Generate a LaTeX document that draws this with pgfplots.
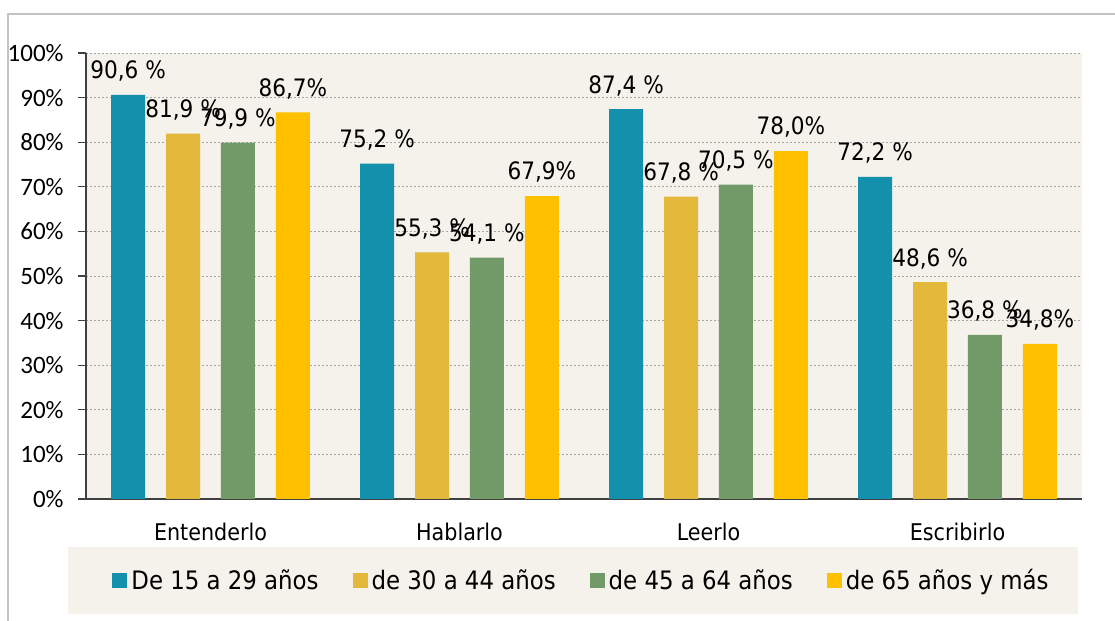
\documentclass[border=0pt]{standalone}
\usepackage{pgfplots}
\pgfplotsset{compat=1.18}
\usepackage{fontspec}
\setmainfont{DejaVu Sans Condensed}
\newfontfamily\carlito{Carlito}
\definecolor{bgc}{RGB}{245,241,235}
\definecolor{cteal}{RGB}{19,145,172}
\definecolor{cgold}{RGB}{228,184,58}
\definecolor{cgreen}{RGB}{113,154,104}
\definecolor{cyellow}{RGB}{255,192,0}
\definecolor{frame}{RGB}{195,195,195}
\begin{document}
\begin{tikzpicture}
\useasboundingbox (0,0) rectangle (557.5pt,310.5pt);
\draw[frame, line width=1pt] (4pt,0) -- (4pt,303.5pt) -- (557.5pt,303.5pt);
\begin{axis}[
  at={(43pt,61pt)}, anchor=south west,
  scale only axis, width=498pt, height=223pt,
  axis background/.style={fill=bgc},
  xmin=-0.5, xmax=3.5, ymin=0, ymax=100,
  ybar, bar width=0.137,
  axis x line*=bottom, axis y line*=left,
  axis line style={draw=black!75, line width=0.6pt},
  ytick={0,10,...,100},
  yticklabel={\pgfmathprintnumber{\tick}\%},
  /pgf/number format/assume math mode=true,
  yticklabel style={font=\carlito\fontsize{12.5}{14}\selectfont, inner sep=0pt, xshift=-7pt},
  ymajorgrids,
  grid style={draw=black!35, line width=0.4pt, dash pattern=on 1pt off 1pt},
  tick align=outside,
  major tick length=4pt,
  minor tick length=5pt,
  xtick={0,1,2,3},
  xticklabels={Entenderlo,Hablarlo,Leerlo,Escribirlo},
  x tick style={draw=none},
  minor xtick={-0.5,0.5,1.5,2.5,3.5},
  extra x ticks={-0.5,0.5,1.5,2.5,3.5},
  extra x tick labels={},
  extra x tick style={major tick length=5pt, tick style={draw=black!75, line width=0.6pt}},
  y tick style={draw=black!75, line width=0.6pt},
  xticklabel style={font=\fontsize{11.5}{13}\selectfont, inner sep=0pt, yshift=-8pt},
  point meta=explicit symbolic,
  nodes near coords,
  every node near coord/.append style={font=\fontsize{12}{14}\selectfont, inner sep=0pt, yshift=6.5pt, text=black},
  clip=false,
  legend columns=4,
  legend style={at={(0.4985,-0.1836)}, anchor=center, draw=none, fill=none,
    font=\fontsize{12.7}{15}\selectfont,
    /tikz/every even column/.append style={column sep=15pt}},
  legend image code/.code={\fill[#1] (0pt,-3.8pt) rectangle (7.5pt,3.8pt);},
]
\fill[bgc] (rel axis cs:-0.0181,-0.1076) rectangle (rel axis cs:0.996,-0.258);
\addplot[fill=cteal, draw=none, bar shift=-0.331] coordinates {
  (0,90.6) [90,6 \%] (1,75.2) [75,2 \%] (2,87.4) [87,4 \%] (3,72.2) [72,2 \%]};
\addplot[fill=cgold, draw=none, bar shift=-0.110] coordinates {
  (0,81.9) [81,9 \%] (1,55.3) [55,3 \%] (2,67.8) [67,8 \%] (3,48.6) [48,6 \%]};
\addplot[fill=cgreen, draw=none, bar shift=0.110] coordinates {
  (0,79.9) [79,9 \%] (1,54.1) [54,1 \%] (2,70.5) [70,5 \%] (3,36.8) [36,8 \%]};
\addplot[fill=cyellow, draw=none, bar shift=0.331] coordinates {
  (0,86.7) [86,7\%] (1,67.9) [67,9\%] (2,78.0) [78,0\%] (3,34.8) [34,8\%]};
\legend{De 15 a 29 años, de 30 a 44 años, de 45 a 64 años, de 65 años y más}
\end{axis}
\end{tikzpicture}
\end{document}
